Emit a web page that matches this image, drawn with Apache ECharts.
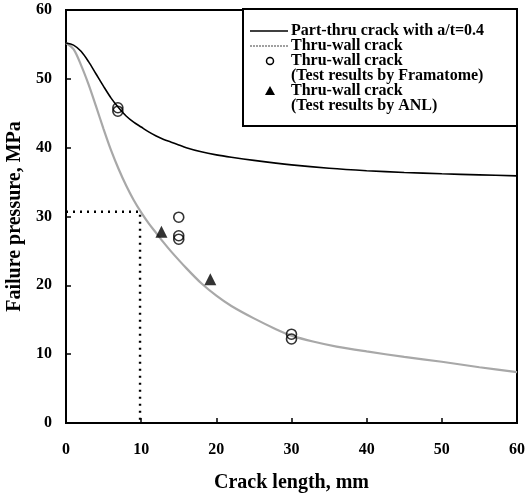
<!DOCTYPE html>
<html>
<head>
<meta charset="utf-8">
<script src="https://cdn.jsdelivr.net/npm/echarts@6/dist/echarts.min.js"></script>
<style>
html,body{margin:0;padding:0;background:#fff;}
#chart{width:528px;height:497px;}
</style>
</head>
<body>
<div id="chart"></div>
<script>
// Data
var partThruX = [0,1,2,3,4,5,6,7,8,9,10,11,12,13,14,15,16,18,20,22,25,30,35,40,45,50,55,60];
var partThruY = [55.2,54.9,54.0,52.5,50.7,48.9,47.2,45.8,44.6,43.7,43.0,42.3,41.7,41.2,40.8,40.4,40.0,39.4,38.95,38.6,38.15,37.5,37.0,36.65,36.4,36.2,36.05,35.9];
var thruWallX = [0,1,2,3,4,5,6,7,8,9,10,11,12,13,14,16,18,20,22,25,28,30,33,36,40,45,50,55,60];
var thruWallY = [55.2,54.3,52.0,49.2,46.0,42.7,39.6,36.9,34.5,32.4,30.6,29.0,27.6,26.2,24.9,22.5,20.3,18.5,17.0,15.2,13.6,12.7,11.8,11.1,10.4,9.6,8.9,8.1,7.4];
var framatomeX = [6.9,6.9,15.0,15.0,15.0,30.0,30.0];
var framatomeY = [45.8,45.3,29.9,27.2,26.7,12.9,12.2];
var anlX = [12.7,19.2];
var anlY = [27.8,20.9];
var refX = [0,9.85,9.85];
var refY = [30.7,30.7,0];
var xTicks = [0,10,20,30,40,50,60];
var yTicks = [0,10,20,30,40,50,60];
var legendLabels = ['Part-thru crack with a/t=0.4','Thru-wall crack','Thru-wall crack','(Test results by Framatome)','Thru-wall crack','(Test results by ANL)'];
var xTitle = 'Crack length, mm';
var yTitle = 'Failure pressure, MPa';

function zip(a,b){return a.map(function(v,i){return [v,b[i]];});}

var FONT = '"Liberation Serif", "DejaVu Serif", serif';
var chart = echarts.init(document.getElementById('chart'), null, {renderer:'canvas'});

var lx = 243, ly = 9, lw = 274, lh = 117;
var textX = 291;
var rowY = [31,46,61,76,91,106];
var graphics = [
  {type:'rect', shape:{x:lx,y:ly,width:lw,height:lh}, style:{fill:'#fff',stroke:'#000',lineWidth:2}, z:100},
  {type:'line', shape:{x1:250,y1:rowY[0],x2:288,y2:rowY[0]}, style:{stroke:'#000',lineWidth:1.5}, z:101},
  {type:'line', shape:{x1:250,y1:rowY[1],x2:288,y2:rowY[1]}, style:{stroke:'#a0a0a0',lineWidth:2,lineDash:[2,1]}, z:101},
  {type:'circle', shape:{cx:270,cy:rowY[2],r:3.5}, style:{fill:'#fff',stroke:'#000',lineWidth:1.5}, z:101},
  {type:'polygon', shape:{points:[[270,rowY[4]-5],[275,rowY[4]+4],[265,rowY[4]+4]]}, style:{fill:'#000'}, z:101}
];
legendLabels.forEach(function(t,i){
  graphics.push({type:'text', x:textX, y:rowY[i], z:101,
    style:{text:t, font:'bold 16px ' + FONT, fill:'#000', textVerticalAlign:'middle', verticalAlign:'middle'}});
});

var option = {
  backgroundColor:'#fff',
  animation:false,
  grid:{left:66,right:11,top:10,bottom:74,containLabel:false,outerBoundsMode:'none',
    show:true,borderColor:'#000',borderWidth:2,backgroundColor:'transparent'},
  xAxis:{
    type:'value', min:xTicks[0], max:xTicks[xTicks.length-1], interval:10,
    name:xTitle, nameLocation:'middle', nameGap:50,
    nameTextStyle:{fontFamily:FONT,fontWeight:'bold',fontSize:20,color:'#000'},
    axisLine:{show:true,lineStyle:{color:'#000',width:2}},
    axisTick:{show:true,inside:true,length:5,lineStyle:{color:'#000',width:1.5}},
    axisLabel:{fontFamily:FONT,fontWeight:'bold',fontSize:16,color:'#000',margin:19},
    splitLine:{show:false}
  },
  yAxis:{
    type:'value', min:yTicks[0], max:yTicks[yTicks.length-1], interval:10,
    name:yTitle, nameLocation:'middle', nameGap:35,
    nameTextStyle:{fontFamily:FONT,fontWeight:'bold',fontSize:20,color:'#000'},
    axisLine:{show:true,lineStyle:{color:'#000',width:2}},
    axisTick:{show:true,inside:true,length:5,lineStyle:{color:'#000',width:1.5}},
    axisLabel:{fontFamily:FONT,fontWeight:'bold',fontSize:16,color:'#000',margin:14},
    splitLine:{show:false}
  },
  series:[
    {name:'Part-thru', type:'line', data:zip(partThruX,partThruY), smooth:0.3, showSymbol:false,
      lineStyle:{color:'#000',width:1.6}, z:3},
    {name:'Thru-wall', type:'line', data:zip(thruWallX,thruWallY), smooth:0.3, showSymbol:false,
      lineStyle:{color:'#a8a8a8',width:2.2}, z:2},
    {name:'Ref', type:'line', data:zip(refX,refY), showSymbol:false,
      lineStyle:{color:'#000',width:2.4,type:[2,5]}, z:4},
    {name:'Framatome', type:'scatter', data:zip(framatomeX,framatomeY), symbol:'circle', symbolSize:10,
      itemStyle:{color:'rgba(255,255,255,0)',borderColor:'#000',borderWidth:1.6}, z:5},
    {name:'ANL', type:'scatter', data:zip(anlX,anlY), symbol:'triangle', symbolSize:12,
      itemStyle:{color:'#000'}, z:5}
  ],
  graphic:graphics
};
chart.setOption(option);
</script>
</body>
</html>
